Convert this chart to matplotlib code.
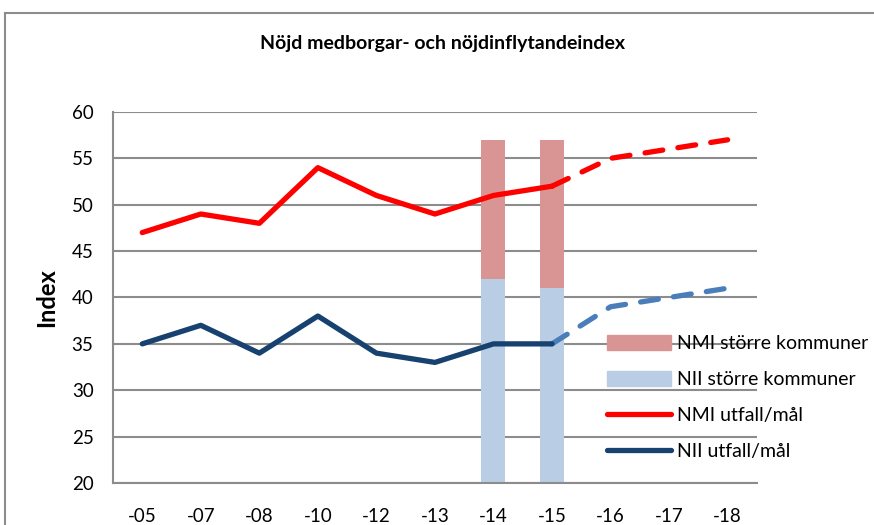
import numpy as np
import matplotlib
matplotlib.use("Agg")
import matplotlib.pyplot as plt
from matplotlib.patches import Patch
from matplotlib.lines import Line2D

plt.rcParams['font.family'] = ['Lato', 'DejaVu Sans']

# data
years = ['-05', '-07', '-08', '-10', '-12', '-13', '-14', '-15', '-16', '-17', '-18']
nmi = [47, 49, 48, 54, 51, 49, 51, 52, 55, 56, 57]
nii = [35, 37, 34, 38, 34, 33, 35, 35, 39, 40, 41]
n_actual = 8            # first 8 points are outcomes, the rest targets (dashed)
bar_years = ['-14', '-15']
nii_large = [42, 41]
nmi_large = [15, 16]    # stacked on top of the NII bar (totals 57)

red = '#FF0000'
navy = '#17416F'
lightblue_line = '#4A7EBB'
bar_red = '#D99594'
bar_blue = '#B9CDE5'
grid_gray = '#8C8C8C'

fig = plt.figure(figsize=(8.74, 5.25), dpi=100)
ax = fig.add_axes([0.1293, 0.08, 0.7367, 0.7067])

x = np.arange(len(years))
bx = [years.index(y) for y in bar_years]

ax.bar(bx, nii_large, width=0.41, color=bar_blue, zorder=2)
ax.bar(bx, nmi_large, bottom=nii_large, width=0.41, color=bar_red, zorder=2)

k = n_actual
lw = 3.8
dash = dict(lw=lw, ls=(0, (3.4, 2.9)), dash_capstyle='round', solid_capstyle='round', zorder=3)
ax.plot(x[k-1:], nmi[k-1:], color=red, **dash)
ax.plot(x[k-1:], nii[k-1:], color=lightblue_line, **dash)
ax.plot(x[:k], nmi[:k], color=red, lw=lw, solid_capstyle='round', solid_joinstyle='round', zorder=4)
ax.plot(x[:k], nii[:k], color=navy, lw=lw, solid_capstyle='round', solid_joinstyle='round', zorder=4)

ax.set_xlim(-0.5, len(years) - 0.5)
ax.set_ylim(20, 60)
ax.set_yticks(range(20, 61, 5))
ax.set_xticks(x)
ax.set_xticklabels(years)
ax.yaxis.grid(True, color=grid_gray, lw=1.5, zorder=0)
ax.set_axisbelow(True)
for s in ['top', 'right']:
    ax.spines[s].set_visible(False)
for s in ['left', 'bottom']:
    ax.spines[s].set_color(grid_gray)
    ax.spines[s].set_linewidth(1.5)
ax.tick_params(axis='both', length=0, labelsize=13.5, colors='black')
ax.tick_params(axis='x', pad=18)
ax.tick_params(axis='y', pad=14)
ax.set_ylabel('Index', fontsize=17, fontweight='bold', labelpad=10)

fig.text(0.506, 0.918, 'Nöjd medborgar- och nöjdinflytandeindex',
         ha='center', va='center', fontsize=14, fontweight='bold')

handles = [Patch(color=bar_red), Patch(color=bar_blue),
           Line2D([], [], color=red, lw=lw, solid_capstyle='round'),
           Line2D([], [], color=navy, lw=lw, solid_capstyle='round')]
labels = ['NMI större kommuner', 'NII större kommuner', 'NMI utfall/mål', 'NII utfall/mål']
leg = fig.legend(handles, labels, loc='upper left', bbox_to_anchor=(0.694, 0.362),
                 frameon=False, fontsize=14, handlelength=3.3, handleheight=0.85,
                 handletextpad=0.3, labelspacing=0.95, borderpad=0, borderaxespad=0)

# outer chart frame (partly cut off at the right and bottom)
fig.add_artist(Line2D([5/874, 1], [1 - 13/525, 1 - 13/525], color='#8C8C8C', lw=1.5))
fig.add_artist(Line2D([5/874, 5/874], [0, 1 - 13/525], color='#8C8C8C', lw=1.5))

fig.savefig('out.png', dpi=100)
